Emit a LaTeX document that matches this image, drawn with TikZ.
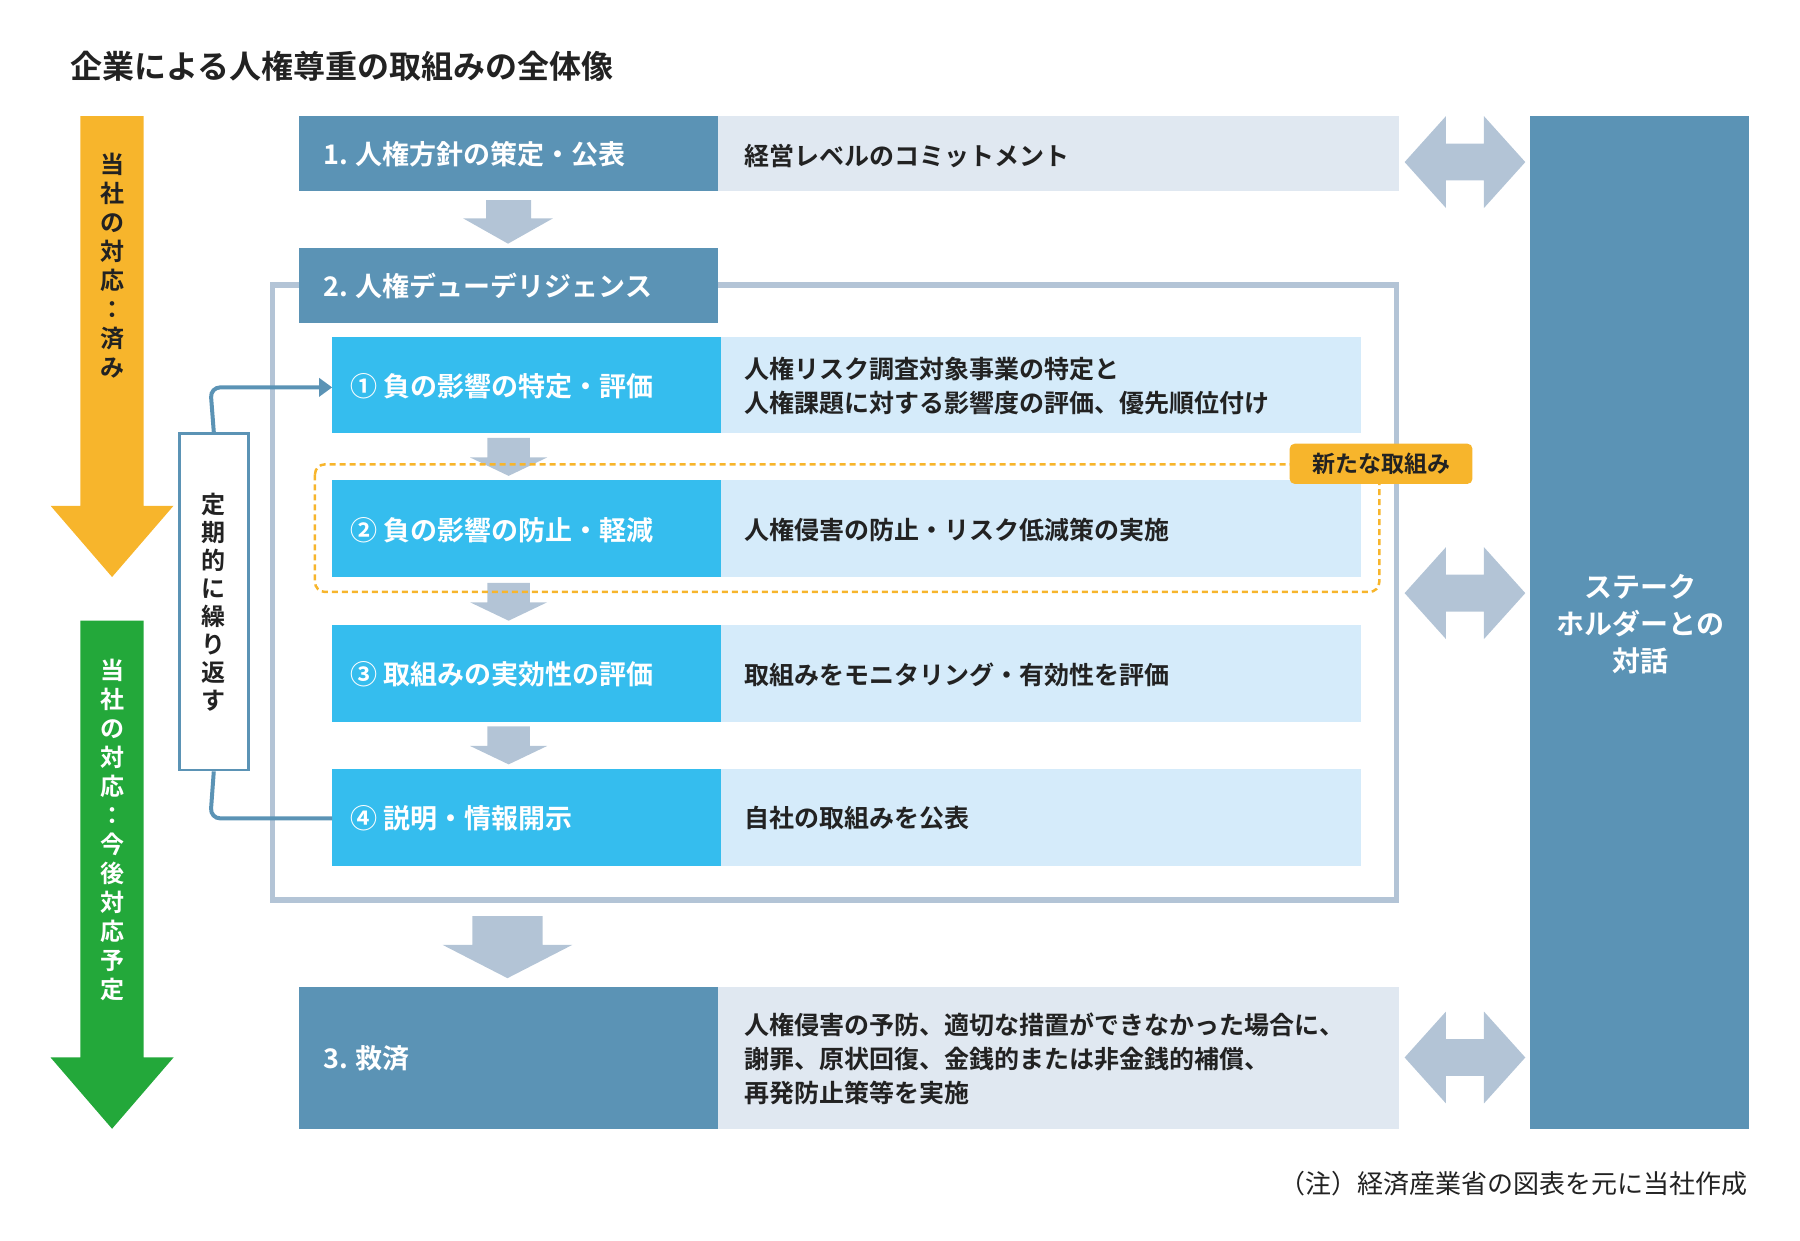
\documentclass[tikz,border=0pt]{standalone}
\usepackage{fontspec}
\setmainfont{Noto Sans CJK JP}
\newfontfamily\jpb{Noto Sans CJK JP Bold}
\usetikzlibrary{arrows.meta}
\definecolor{dblue}{HTML}{5B93B5}
\definecolor{lgray}{HTML}{E0E8F1}
\definecolor{cyanb}{HTML}{35BDEE}
\definecolor{lblue}{HTML}{D5EBFA}
\definecolor{garr}{HTML}{B3C4D6}
\definecolor{orng}{HTML}{F7B52C}
\definecolor{grn}{HTML}{23A83A}
\definecolor{txt}{HTML}{222222}
\begin{document}
\begin{tikzpicture}[x=1.1494pt,y=-1.1494pt,
  hd/.style={font=\jpb\fontsize{27}{32}\selectfont,text=white,anchor=west},
  ds/.style={font=\jpb\fontsize{25}{34}\selectfont,text=txt,anchor=west,align=left},
  vt/.style={font=\jpb\fontsize{24}{29}\selectfont,align=center},
  sarr/.style={fill=garr,draw=none}]
\useasboundingbox (0,0) rectangle (1566,1079);
\node[font=\jpb\fontsize{32}{38}\selectfont,text=txt,anchor=west] (title) at (58,58) {企業による人権尊重の取組みの全体像};
% left arrows
\fill[orng] (70,101) -- (125,101) -- (125,440) -- (151,440) -- (97.5,502) -- (44,440) -- (70,440) -- cycle;
\fill[grn] (70,540) -- (125,540) -- (125,920) -- (151,920) -- (97.5,982) -- (44,920) -- (70,920) -- cycle;
\node[vt,text=txt,anchor=north] (o) at (97.5,130) {当\\社\\の\\対\\応\\：\\済\\み};
\node[vt,text=white,anchor=north] (g) at (97.5,570) {当\\社\\の\\対\\応\\：\\今\\後\\対\\応\\予\\定};
% box 1
\fill[dblue] (260,101) rectangle (625,166);
\fill[lgray] (625,101) rectangle (1217,166);
\node[hd] (h1) at (278,134) {1. 人権方針の策定・公表};
\node[ds] (d1) at (645,136) {経営レベルのコミットメント};
\fill[sarr] (423,174) -- (462,174) -- (462,190) -- (481,190) -- (442,212) -- (403,190) -- (423,190) -- cycle;
% outline
\draw[garr,line width=5.5] (237,248) rectangle (1215,783);
\fill[dblue] (260,216) rectangle (625,281);
\node[hd] (h2) at (278,249) {2. 人権デューデリジェンス};
% rows
\foreach \y/\a/\b [count=\i] in {293/① 負の影響の特定・評価/{人権リスク調査対象事業の特定と\\人権課題に対する影響度の評価、優先順位付け},418/② 負の影響の防止・軽減/人権侵害の防止・リスク低減策の実施,544/③ 取組みの実効性の評価/取組みをモニタリング・有効性を評価,669/④ 説明・情報開示/自社の取組みを公表}{
  \fill[cyanb] (289,\y) rectangle (627,\y+84);
  \fill[lblue] (627,\y) rectangle (1184,\y+84);
  \node[hd] (r\i) at (302,\y+43) {\a};
  \node[ds] (e\i) at (645,\y+43) {\b};
}
\foreach \y in {381,507,632}{
  \fill[sarr] (424,\y) -- (461,\y) -- (461,\y+17) -- (476,\y+17) -- (442.5,\y+33) -- (409,\y+17) -- (424,\y+17) -- cycle;
}
% dashed
\draw[orng,line width=2.5,dash pattern=on 6pt off 4pt,rounded corners=10] (274,404) rectangle (1200,515);
\node[fill=orng,rounded corners=5,minimum width=159*1.1494pt,minimum height=35*1.1494pt,font=\jpb\fontsize{23}{27}\selectfont,text=txt,inner sep=0] (new) at (1201.5,403.5) {新たな取組み};
% cycle
\node[draw=dblue,line width=2.5,fill=white,minimum width=60*1.1494pt,minimum height=293*1.1494pt,inner sep=0] (cyc) at (186,523.5) {};
\node[vt,text=txt,font=\jpb\fontsize{24}{28}\selectfont] (cyct) at (186,523.5) {定\\期\\的\\に\\繰\\り\\返\\す};
\coordinate (a1) at (289,337);
\coordinate (a2) at (289,712);
\draw[dblue,line width=4,rounded corners=10,-{Triangle[length=13pt,width=18pt]}] (cyc.north) -- (183,337) -- (a1);
\draw[dblue,line width=4,rounded corners=10] (cyc.south) -- (183,712) -- (a2);
% big down arrow
\fill[sarr] (411,797) -- (472,797) -- (472,822) -- (498,822) -- (441.5,851) -- (385,822) -- (411,822) -- cycle;
% box 3
\fill[dblue] (260,859) rectangle (625,982);
\fill[lgray] (625,859) rectangle (1217,982);
\node[hd] (h3) at (278,921) {3. 救済};
\node[ds] (d3) at (645,921) {人権侵害の予防、適切な措置ができなかった場合に、\\謝罪、原状回復、金銭的または非金銭的補償、\\再発防止策等を実施};
% stakeholder
\fill[dblue] (1331,101) rectangle (1522,982);
\node[vt,text=white,font=\jpb\fontsize{28}{37}\selectfont] (st) at (1427,543) {ステーク\\ホルダーとの\\対話};
\foreach \c in {141,516,920}{
  \fill[garr] (1222,\c) -- (1258,\c-40) -- (1258,\c-16) -- (1291,\c-16) -- (1291,\c-40) -- (1327,\c) -- (1291,\c+40) -- (1291,\c+16) -- (1258,\c+16) -- (1258,\c+40) -- cycle;
}
\node[font=\fontsize{26}{30}\selectfont,text=txt,anchor=east] (note) at (1523,1030) {（注）経済産業省の図表を元に当社作成};
\end{tikzpicture}
\end{document}
